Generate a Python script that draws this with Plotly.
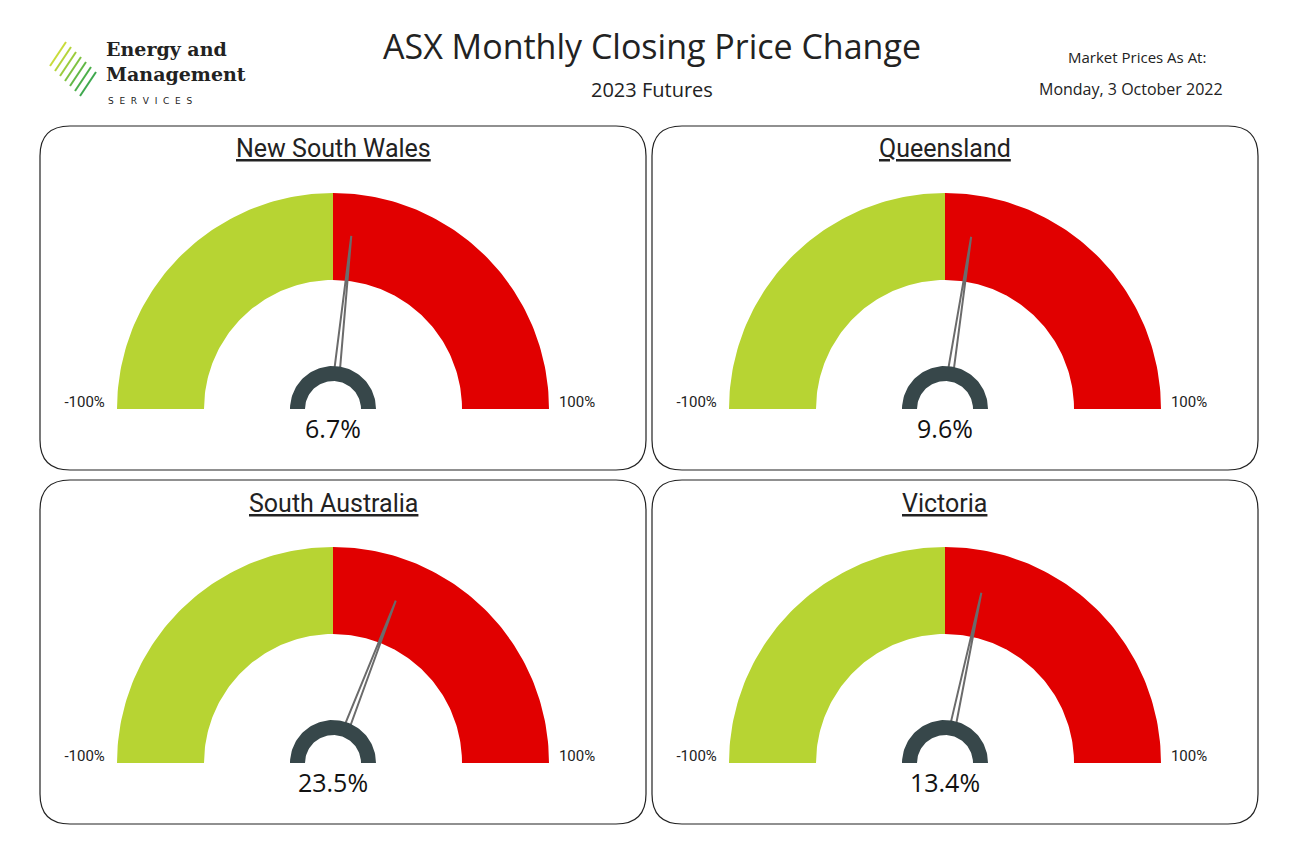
import numpy as np
import plotly.graph_objects as go

regions = ["New South Wales", "Queensland", "South Australia", "Victoria"]
changes = [6.7, 9.6, 23.5, 13.4]
gauge_min = -100
gauge_max = 100

# page is drawn with an 8px body margin, so work in window pixels and shift
OFF = 8
W, H = 1297, 840
# panel boxes in window pixels (x0, y0, x1, y1)
panels = [(40, 126, 646, 470), (652, 126, 1258, 470),
          (40, 480, 646, 824), (652, 480, 1258, 824)]
R = 216.0  # outer radius in px
GREEN = "#b7d433"
RED = "#e10000"
HUB = "#37474a"


def px(x):
    return (x - OFF) / W


def py_(y):
    return 1 - (y - OFF) / H


fig = go.Figure()


def arc(r0, r1, a0, a1, n=80):
    t = np.linspace(a0, a1, n)
    xs = np.concatenate([r1 * np.cos(t), r0 * np.cos(t[::-1])])
    ys = np.concatenate([r1 * np.sin(t), r0 * np.sin(t[::-1])])
    return np.append(xs, xs[0]), np.append(ys, ys[0])


def rounded(x0, y0, x1, y1, r=30):
    p = [f"M {px(x0 + r)},{py_(y0)}", f"L {px(x1 - r)},{py_(y0)}",
         f"Q {px(x1)},{py_(y0)} {px(x1)},{py_(y0 + r)}", f"L {px(x1)},{py_(y1 - r)}",
         f"Q {px(x1)},{py_(y1)} {px(x1 - r)},{py_(y1)}", f"L {px(x0 + r)},{py_(y1)}",
         f"Q {px(x0)},{py_(y1)} {px(x0)},{py_(y1 - r)}", f"L {px(x0)},{py_(y0 + r)}",
         f"Q {px(x0)},{py_(y0)} {px(x0 + r)},{py_(y0)}", "Z"]
    return " ".join(p)


def note(text, x, y, size, family="Open Sans", **kw):
    fig.add_annotation(text=text, xref="paper", yref="paper", x=px(x), y=py_(y),
                       xanchor=kw.pop("xanchor", "center"), yanchor="middle",
                       showarrow=False, font=dict(family=family, size=size, color="#222"), **kw)


for i, (name, val) in enumerate(zip(regions, changes)):
    x0, y0, x1, y1 = panels[i]
    cx = x0 + 293
    cy = y1 - 61
    ax = "" if i == 0 else str(i + 1)
    xa, ya = "x" + ax, "y" + ax
    fig.layout["xaxis" + ax] = dict(domain=[px(x0), px(x1)], range=[(x0 - cx) / R, (x1 - cx) / R],
                                    visible=False, fixedrange=True)
    fig.layout["yaxis" + ax] = dict(domain=[py_(y1), py_(y0)], range=[(cy - y1) / R, (cy - y0) / R],
                                    visible=False, fixedrange=True)
    frac = (val - gauge_min) / (gauge_max - gauge_min)
    ang_val = np.pi * (1 - frac)
    xs, ys = arc(129 / R, 1.0, np.pi / 2, np.pi)
    fig.add_trace(go.Scatter(x=xs, y=ys, fill="toself", fillcolor=GREEN, line=dict(width=0),
                             mode="lines", hoverinfo="skip", xaxis=xa, yaxis=ya))
    xs, ys = arc(129 / R, 1.0, 0, np.pi / 2)
    fig.add_trace(go.Scatter(x=xs, y=ys, fill="toself", fillcolor=RED, line=dict(width=0),
                             mode="lines", hoverinfo="skip", xaxis=xa, yaxis=ya))
    # needle
    w = 0.07
    r_in, r_out = 40 / R, 174 / R
    nx = [r_in * np.cos(ang_val + w), r_out * np.cos(ang_val), r_in * np.cos(ang_val - w),
          r_in * np.cos(ang_val + w)]
    ny = [r_in * np.sin(ang_val + w), r_out * np.sin(ang_val), r_in * np.sin(ang_val - w),
          r_in * np.sin(ang_val + w)]
    fig.add_trace(go.Scatter(x=nx, y=ny, fill="toself", fillcolor="white",
                             line=dict(color="#6b6b6b", width=2), mode="lines",
                             hoverinfo="skip", xaxis=xa, yaxis=ya))
    xs, ys = arc(28 / R, 43 / R, 0, np.pi)
    fig.add_trace(go.Scatter(x=xs, y=ys, fill="toself", fillcolor=HUB, line=dict(width=0),
                             mode="lines", hoverinfo="skip", xaxis=xa, yaxis=ya))
    fig.add_trace(go.Scatter(x=[-1.15, 1.13], y=[0.025, 0.025], mode="text",
                             text=[f"{gauge_min}%", f"{gauge_max}%"],
                             textfont=dict(family="Roboto", size=15, color="#222"),
                             hoverinfo="skip", xaxis=xa, yaxis=ya))
    fig.add_trace(go.Scatter(x=[0], y=[-23 / R], mode="text", text=[f"{val}%"],
                             textfont=dict(family="Open Sans", size=25, color="#111"),
                             hoverinfo="skip", xaxis=xa, yaxis=ya))
    fig.add_shape(type="path", xref="paper", yref="paper", path=rounded(x0, y0, x1, y1),
                  line=dict(color="#222", width=1.2))
    note(f"<u>{name}</u>", cx, y0 + 23, 25, family="Roboto")

# header
note("ASX Monthly Closing Price Change", 652, 46, 34)
note("2023 Futures", 652, 90, 20)
note("Market Prices As At:", 1137, 57, 15)
note("Monday, 3 October 2022", 1131, 89, 16)
# logo
note("<b>Energy and<br>Management</b>", 104, 61, 19, family="DejaVu Serif",
     xanchor="left", align="left")
note("S  E  R  V  I  C  E  S", 106, 101, 9, family="DejaVu Sans", xanchor="left")
colors = ["#c9dc3a", "#b5d43a", "#9ccc3c", "#7fc241", "#62b846", "#4caf4a", "#3ea84e"]
for k, c in enumerate(colors):
    d = k * 5
    fig.add_shape(type="line", xref="paper", yref="paper",
                  x0=px(50 + d), y0=py_(66 + d), x1=px(66 + d), y1=py_(42 + d),
                  line=dict(color=c, width=2))

fig.update_layout(width=W, height=H, margin=dict(l=0, r=0, t=0, b=0),
                  paper_bgcolor="white", plot_bgcolor="white", showlegend=False)
fig.write_html("out.html")
